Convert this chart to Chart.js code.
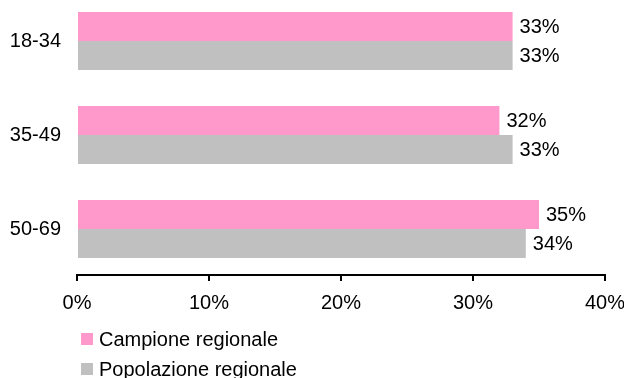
<!DOCTYPE html>
<html>
<head>
<meta charset="utf-8">
<script src="https://cdn.jsdelivr.net/npm/chart.js@4/dist/chart.umd.min.js"></script>
<style>
    html, body { margin: 0; padding: 0; background: #fff; }
    #wrap { position: relative; width: 624px; height: 378px; overflow: hidden; }
    #legend { position: absolute; left: 81px; top: 324px; font: 20px "Liberation Sans", Arial, sans-serif; color: #000; }
    .legend-item { display: flex; align-items: center; height: 30px; white-space: nowrap; }
    .legend-box { width: 12px; height: 12px; margin-right: 6px; }
</style>
</head>
<body>
<div id="wrap">
    <canvas id="ageChart" width="624" height="378"></canvas>
    <div id="legend"></div>
</div>
<script>
// Age groups and shares (%)
const categories = ['18-34', '35-49', '50-69'];
const seriesNames = ['Campione regionale', 'Popolazione regionale'];
const campioneValues = [33, 32, 35];
const popolazioneValues = [33, 33, 34];
const xTicks = [0, 10, 20, 30, 40];

const colors = ['#FF99CC', '#C0C0C0'];
const FONT = '"Liberation Sans", Arial, sans-serif';

// Draw the percentage next to the end of each bar
const valueLabels = {
    id: 'valueLabels',
    afterDatasetsDraw(chart) {
        const ctx = chart.ctx;
        ctx.save();
        ctx.font = '20px ' + FONT;
        ctx.fillStyle = '#000';
        ctx.textAlign = 'left';
        ctx.textBaseline = 'middle';
        chart.data.datasets.forEach((ds, di) => {
            chart.getDatasetMeta(di).data.forEach((bar, i) => {
                ctx.fillText(ds.data[i].x + '%', bar.x + 7, bar.y + 1);
            });
        });
        ctx.restore();
    }
};

const toPoints = vals => vals.map((v, i) => ({ x: v, y: i }));

new Chart(document.getElementById('ageChart'), {
    type: 'bar',
    data: {
        datasets: [{
            label: seriesNames[0],
            data: toPoints(campioneValues),
            backgroundColor: colors[0]
        }, {
            label: seriesNames[1],
            data: toPoints(popolazioneValues),
            backgroundColor: colors[1]
        }]
    },
    options: {
        indexAxis: 'y',
        responsive: false,
        animation: false,
        categoryPercentage: 58 / 94,
        barPercentage: 1,
        layout: { padding: { top: 0, right: 19, bottom: 63, left: 0 } },
        plugins: {
            legend: { display: false },
            tooltip: { enabled: false }
        },
        scales: {
            x: {
                type: 'linear',
                min: 0,
                max: 40,
                afterBuildTicks: scale => { scale.ticks = xTicks.map(v => ({ value: v })); },
                afterFit: scale => {
                    scale.height = 40;
                    scale.paddingLeft = 0;
                    scale.paddingRight = 0;
                },
                grid: { drawOnChartArea: false, drawTicks: true, tickLength: 6, color: '#000', lineWidth: 2 },
                border: { color: '#000', width: 2 },
                ticks: {
                    padding: 10,
                    color: '#000',
                    maxRotation: 0,
                    font: { family: FONT, size: 20 },
                    callback: v => v + '%'
                }
            },
            y: {
                type: 'linear',
                reverse: true,
                offset: false,
                bounds: 'data',
                // category centres sit 94px apart, first one 41px below the top
                min: -41 / 94,
                max: 2 + 46 / 94,
                afterBuildTicks: scale => { scale.ticks = categories.map((c, i) => ({ value: i })); },
                afterFit: scale => {
                    scale.width = 77;
                    scale.paddingTop = 0;
                    scale.paddingBottom = 0;
                },
                grid: { display: false, drawTicks: false, offset: false },
                border: { display: false },
                ticks: {
                    padding: 16,
                    color: '#000',
                    font: { family: FONT, size: 20 },
                    callback: v => categories[v]
                }
            }
        }
    },
    plugins: [valueLabels]
});

// Legend stacked under the axis
const legend = document.getElementById('legend');
seriesNames.forEach((name, i) => {
    const item = document.createElement('div');
    item.className = 'legend-item';
    item.innerHTML = '<span class="legend-box" style="background:' + colors[i] + '"></span><span>' + name + '</span>';
    legend.appendChild(item);
});
</script>
</body>
</html>
